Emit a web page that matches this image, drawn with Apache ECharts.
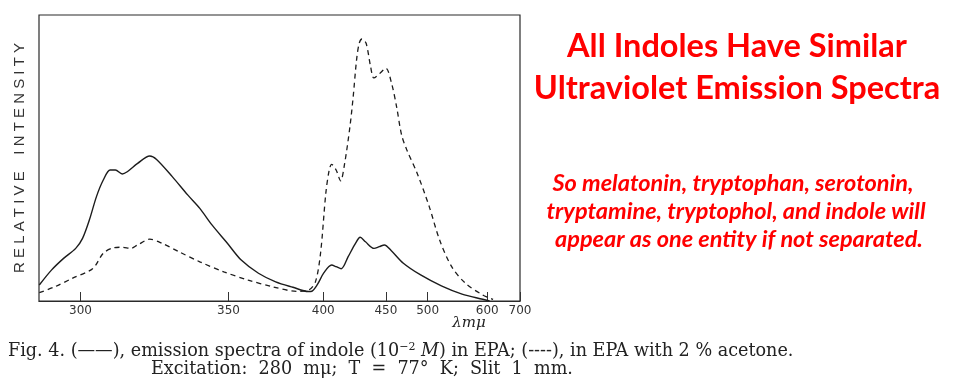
<!DOCTYPE html>
<html>
<head>
<meta charset="utf-8">
<script src="https://cdn.jsdelivr.net/npm/echarts@6/dist/echarts.min.js"></script>
<style>
html,body{margin:0;padding:0;background:#fff;}
#chart{width:960px;height:385px;}
</style>
</head>
<body>
<div id="chart"></div>
<script>
// Wavelength tick labels (nm, "mμ") of the non-linear (prism) scale
const tickLambda = [300, 350, 400, 450, 500, 600, 700];
// Calibration of that scanned non-linear scale: axis units at each tick
const tickScale = [0, 148, 242.6, 305.3, 347, 406.6, 439.3];

// Solid curve: indole in EPA
const solidLambda = [286.1, 290.2, 294.3, 298.4, 300.7, 303.0, 305.4, 307.7, 310.0, 311.8, 314.1, 315.8, 319.3, 323.4, 325.7, 331.0, 336.2, 340.3, 344.4, 349.6, 356.7, 365.8, 374.9, 384.0, 392.2, 394.0, 396.8, 400.6, 406.7, 410.3, 414.4, 419.9, 425.4, 429.5, 433.7, 440.5, 444.7, 448.8, 456.5, 470.9, 491.6, 523.0, 557.7, 592.4, 607];
const solidIntensity = [5.6, 10.8, 14.9, 18.4, 21.9, 28.3, 36.5, 42.3, 45.8, 45.8, 44.4, 45.2, 48.1, 50.7, 49.5, 43.5, 37.1, 32.4, 26.6, 20.2, 14.3, 9.7, 6.7, 4.8, 3.3, 3.4, 5.6, 9.9, 12.6, 12.0, 11.3, 15.5, 19.9, 22.3, 20.7, 18.4, 19.0, 19.6, 17.6, 13.2, 9.1, 5.3, 2.4, 0.6, 0];

// Dashed curve: in EPA with 2 % acetone
const dashedLambda = [286.1, 291.4, 297.2, 304.2, 307.7, 311.2, 314.1, 317.0, 319.3, 323.4, 327.5, 333.3, 340.3, 348.4, 360.4, 373.1, 385.9, 392.2, 395.9, 398.6, 402.1, 404.8, 406.7, 410.3, 413.9, 417.1, 421.3, 423.9, 426.6, 428.7, 430.9, 434.2, 437.8, 440.4, 444.7, 450.0, 456.8, 462.8, 468.8, 475.1, 487.4, 502.7, 520.1, 540.3, 563.4, 592.4, 617.7];
const dashedIntensity = [2.9, 5.0, 7.9, 11.4, 16.7, 18.6, 18.8, 18.4, 19.6, 21.6, 20.2, 17.2, 13.7, 10.2, 7.3, 5.0, 3.4, 3.8, 6.7, 16.7, 37.7, 45.8, 47.8, 45.8, 42.0, 48.1, 60.9, 71.4, 84.3, 90.1, 91.6, 90.1, 81.9, 78.0, 79.4, 81.4, 76.1, 67.9, 58.0, 52.8, 44.7, 33.0, 21.3, 12.0, 6.2, 2.1, 0.6];

const xMinLambda = 286;

function lamToScale(l) {
  if (l <= tickLambda[0]) {
    return tickScale[0] + (l - tickLambda[0]) * (tickScale[1] - tickScale[0]) / (tickLambda[1] - tickLambda[0]);
  }
  for (let i = 0; i < tickLambda.length - 1; i++) {
    if (l <= tickLambda[i + 1]) {
      return tickScale[i] + (l - tickLambda[i]) * (tickScale[i + 1] - tickScale[i]) / (tickLambda[i + 1] - tickLambda[i]);
    }
  }
  const n = tickLambda.length - 1;
  return tickScale[n] + (l - tickLambda[n]) * (tickScale[n] - tickScale[n - 1]) / (tickLambda[n] - tickLambda[n - 1]);
}

const solidData = solidLambda.map((l, i) => [lamToScale(l), solidIntensity[i]]);
const dashedData = dashedLambda.map((l, i) => [lamToScale(l), dashedIntensity[i]]);

const chart = echarts.init(document.getElementById('chart'), null, {renderer: 'canvas'});

const ink = '#1c1c1c';
const red = '#ff0000';

const option = {
  backgroundColor: '#ffffff',
  animation: false,
  grid: {
    left: 39, right: 440, top: 15, bottom: 84,
    show: true, borderColor: '#2a2a2a', borderWidth: 1.2, backgroundColor: 'transparent'
  },
  xAxis: {
    type: 'value',
    min: lamToScale(xMinLambda),
    max: lamToScale(700),
    axisLine: {show: true, onZero: false, lineStyle: {color: '#2a2a2a', width: 1.2}},
    axisTick: {
      show: true, inside: true, length: 9,
      customValues: tickLambda.map(lamToScale),
      lineStyle: {color: '#333', width: 1}
    },
    axisLabel: {
      show: true,
      customValues: tickLambda.map(lamToScale),
      margin: 4,
      color: '#333',
      fontFamily: 'DejaVu Sans',
      fontSize: 12,
      showMinLabel: true, showMaxLabel: true,
      formatter: function (v) {
        for (let i = 0; i < tickLambda.length; i++) {
          if (Math.abs(lamToScale(tickLambda[i]) - v) < 0.5) return String(tickLambda[i]);
        }
        return '';
      }
    },
    splitLine: {show: false}
  },
  yAxis: {
    type: 'value', min: 0, max: 100,
    axisLine: {show: false, onZero: false},
    axisTick: {show: false},
    axisLabel: {show: false},
    splitLine: {show: false}
  },
  series: [
    {
      name: 'indole in EPA',
      type: 'line',
      data: solidData,
      smooth: 0.3,
      symbol: 'none',
      lineStyle: {color: ink, width: 1.4}
    },
    {
      name: 'in EPA with 2 % acetone',
      type: 'line',
      data: dashedData,
      smooth: 0.3,
      symbol: 'none',
      lineStyle: {color: ink, width: 1.3, type: [5, 4]}
    }
  ],
  graphic: [
    {
      type: 'text', x: 20, y: 158, rotation: Math.PI / 2,
      style: {
        text: 'R E L A T I V E    I N T E N S I T Y',
        fontFamily: 'Liberation Sans', fontSize: 15, fill: '#333',
        textAlign: 'center', textVerticalAlign: 'middle'
      }
    },
    {
      type: 'text', x: 469, y: 323,
      style: {
        text: 'λmμ', fontFamily: 'DejaVu Serif', fontStyle: 'italic', fontSize: 15, fill: '#222',
        textAlign: 'center', textVerticalAlign: 'middle'
      }
    },
    {
      type: 'text', x: 8, y: 351,
      style: {
        text: 'Fig. 4. (——), emission spectra of indole (10{s|−2} {i|M}) in EPA; (----), in EPA with 2 % acetone.',
        fontFamily: 'DejaVu Serif', fontSize: 17.6, fill: '#222',
        textAlign: 'left', textVerticalAlign: 'middle',
        rich: {
          s: {fontFamily: 'DejaVu Serif', fontSize: 11, fill: '#222', verticalAlign: 'top', padding: [0, 0, 7, 0]},
          i: {fontFamily: 'DejaVu Serif', fontStyle: 'italic', fontSize: 17.6, fill: '#222'}
        }
      }
    },
    {
      type: 'text', x: 151, y: 369,
      style: {
        text: 'Excitation:  280  mμ;  T  =  77°  K;  Slit  1  mm.',
        fontFamily: 'DejaVu Serif', fontSize: 17.6, fill: '#222',
        textAlign: 'left', textVerticalAlign: 'middle'
      }
    },
    {
      type: 'text', x: 737, y: 47,
      style: {
        text: 'All Indoles Have Similar',
        fontFamily: 'Lato', fontWeight: 'bold', fontSize: 32.5, fill: red,
        textAlign: 'center', textVerticalAlign: 'middle'
      }
    },
    {
      type: 'text', x: 737, y: 89,
      style: {
        text: 'Ultraviolet Emission Spectra',
        fontFamily: 'Lato', fontWeight: 'bold', fontSize: 32.5, fill: red,
        textAlign: 'center', textVerticalAlign: 'middle'
      }
    },
    {
      type: 'text', x: 733, y: 183,
      style: {
        text: 'So melatonin, tryptophan, serotonin,',
        fontFamily: 'Lato', fontWeight: 'bold', fontStyle: 'italic', fontSize: 23.5, fill: red,
        textAlign: 'center', textVerticalAlign: 'middle'
      }
    },
    {
      type: 'text', x: 736, y: 211,
      style: {
        text: 'tryptamine, tryptophol, and indole will',
        fontFamily: 'Lato', fontWeight: 'bold', fontStyle: 'italic', fontSize: 23.5, fill: red,
        textAlign: 'center', textVerticalAlign: 'middle'
      }
    },
    {
      type: 'text', x: 739, y: 239,
      style: {
        text: 'appear as one entity if not separated.',
        fontFamily: 'Lato', fontWeight: 'bold', fontStyle: 'italic', fontSize: 23.5, fill: red,
        textAlign: 'center', textVerticalAlign: 'middle'
      }
    }
  ]
};

chart.setOption(option);
</script>
</body>
</html>
